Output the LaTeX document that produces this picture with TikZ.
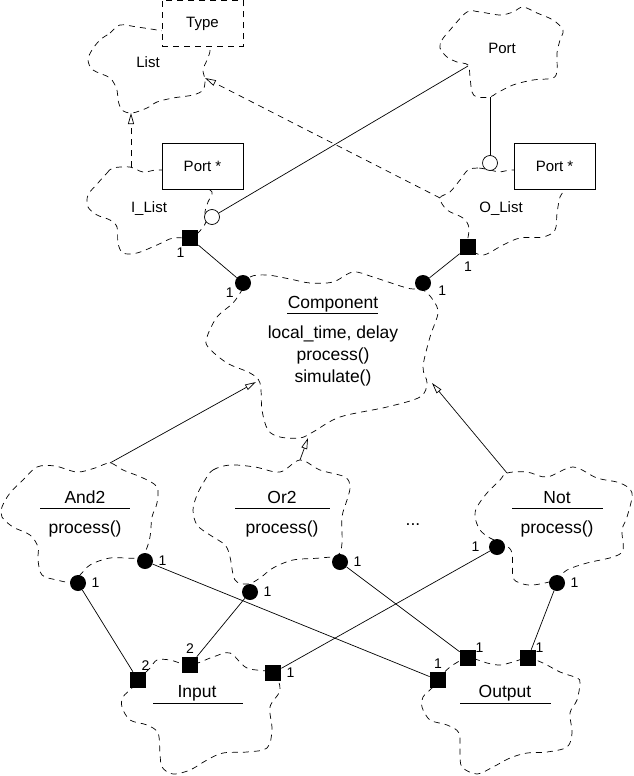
\documentclass[tikz,border=0pt]{standalone}
\usepackage{fontspec}
\setmainfont{Liberation Sans}
\usetikzlibrary{arrows.meta,positioning}

\begin{document}
\begin{tikzpicture}[x=1pt, y=-1pt, line width=0.7pt, >={Triangle[open, length=11pt, width=6pt]},
  cloud/.style={dash pattern=on 6pt off 5pt},
  wire/.style={line width=0.7pt},
  classbox/.style={draw, fill=white, minimum width=81pt, minimum height=46pt, font=\fontsize{15}{17}\selectfont},
  dot/.style={circle, fill=black, inner sep=0pt, minimum size=16pt},
  hollow/.style={circle, draw, fill=white, inner sep=0pt, minimum size=15pt},
  pin/.style={rectangle, fill=black, inner sep=0pt, minimum size=16pt},
  small/.style={font=\fontsize{15}{17}\selectfont, anchor=base, inner sep=0pt},
  big/.style={font=\fontsize{17.5}{21}\selectfont, anchor=base, inner sep=0pt},
  num/.style={font=\fontsize{14}{16}\selectfont, inner sep=1pt}]
  \useasboundingbox (0,0) rectangle (634,776);

  \draw[cloud] plot[smooth cycle, tension=0.55] coordinates {(100,40) (110,33) (120,25) (137,27) (157,30) (185,35) (205,42) (210,50) (207,60) (203,70) (205,80) (203,90) (193,95) (173,98) (157,102) (147,108) (132,113) (122,110) (118,100) (117,90) (110,78) (93,70) (88,60) (92,50)};
  \draw[cloud] plot[smooth cycle, tension=0.55] coordinates {(98,183) (107,173) (113,168) (130,167) (143,172) (157,170) (175,172) (200,185) (212,192) (208,202) (205,212) (206,222) (198,233) (190,238) (173,238) (157,245) (137,253) (123,253) (118,243) (117,227) (110,220) (97,215) (88,207) (88,195)};
  \draw[cloud] plot[smooth cycle, tension=0.55] coordinates {(440,48) (442,40) (450,30) (467,12) (480,12) (500,15) (513,12) (523,7) (537,13) (553,20) (563,30) (560,40) (557,53) (557,70) (553,78) (533,80) (513,85) (497,93) (490,97) (477,97) (472,92) (470,77) (468,65) (457,62) (447,57)};
  \draw[cloud] plot[smooth cycle, tension=0.55] coordinates {(490,170) (478,168) (468,170) (460,180) (450,192) (440,198) (447,210) (463,218) (469,228) (468,247) (483,255) (503,245) (520,238) (543,237) (555,230) (557,213) (560,197) (565,185) (540,172) (512,170) (500,172)};
  \draw[cloud] plot[smooth cycle, tension=0.55] coordinates {(242,290) (250,277) (267,275) (290,279) (310,283) (333,282) (353,272) (373,277) (407,288) (423,290) (433,300) (438,313) (430,337) (423,367) (427,383) (420,397) (387,407) (340,417) (313,432) (300,438) (280,437) (268,430) (262,410) (260,383) (250,373) (227,363) (208,347) (207,337) (217,317) (233,303)};
  \draw[cloud] plot[smooth cycle, tension=0.55] coordinates {(23,480) (37,467) (55,466) (77,472) (95,468) (110,463) (123,470) (143,478) (157,487) (157,503) (152,517) (150,537) (145,552) (137,558) (110,558) (90,565) (80,575) (70,582) (57,580) (42,575) (38,560) (38,547) (30,535) (13,527) (2,517) (2,507) (10,493)};
  \draw[cloud] plot[smooth cycle, tension=0.55] coordinates {(205,480) (213,470) (230,465) (255,467) (280,472) (300,460) (320,470) (345,477) (350,487) (347,500) (342,517) (342,543) (338,555) (320,558) (293,560) (273,568) (260,578) (248,584) (235,580) (230,557) (225,545) (210,535) (197,525) (193,510) (197,495)};
  \draw[cloud] plot[smooth cycle, tension=0.55] coordinates {(500,480) (507,473) (527,472) (547,477) (573,467) (597,478) (620,483) (632,493) (627,517) (622,530) (623,550) (613,557) (587,563) (567,570) (555,580) (533,585) (520,583) (513,577) (512,553) (505,545) (490,538) (480,530) (475,517) (477,507) (487,493)};
  \draw[cloud] plot[smooth cycle, tension=0.55] coordinates {(132,688) (138,680) (150,668) (157,660) (170,660) (190,665) (213,657) (230,653) (247,668) (273,673) (280,690) (270,707) (272,730) (267,748) (247,752) (223,753) (207,760) (190,770) (173,774) (162,767) (160,753) (158,733) (147,725) (130,720) (122,707) (123,697)};
  \draw[cloud] plot[smooth cycle, tension=0.55] coordinates {(432,688) (438,680) (450,667) (468,658) (487,663) (500,665) (513,662) (528,658) (543,663) (560,672) (577,678) (580,683) (577,700) (570,713) (572,733) (567,747) (547,752) (527,753) (510,758) (493,767) (477,774) (462,767) (460,753) (459,733) (447,725) (430,720) (422,707) (423,697)};

  \node[classbox, dash pattern=on 6pt off 5pt] (type) at (202.5,23.5) {Type};
  \node[classbox] (ilBox) at (202.5,166) {Port *};
  \node[classbox] (olBox) at (554.5,166) {Port *};

  \coordinate (listS) at (131,113);
  \coordinate (listE) at (205,78);
  \coordinate (ilTop) at (131,167);
  \coordinate (olW) at (440,198);
  \coordinate (portA) at (468,66);
  \coordinate (portB) at (490,97);
  \coordinate (compL) at (256,382);
  \coordinate (compB) at (308,438);
  \coordinate (compR) at (432,383);
  \coordinate (andTop) at (110,463);
  \coordinate (orTop) at (300,460);
  \coordinate (notTop) at (507,473);

  \node[hollow] (ilPort) at (212,217) {};
  \node[hollow] (olPort) at (490,163) {};
  \node[pin] (ilPin) at (190,238) {};
  \node[pin] (olPin) at (468,247) {};
  \node[dot] (cmpL) at (243,283) {};
  \node[dot] (cmpR) at (423,283) {};
  \node[dot] (andIn) at (78,583) {};
  \node[dot] (andOut) at (145,561) {};
  \node[dot] (orIn) at (250,592) {};
  \node[dot] (orOut) at (340,562) {};
  \node[dot] (notIn) at (497,547) {};
  \node[dot] (notOut) at (557,583) {};
  \node[pin] (inA) at (138,680) {};
  \node[pin] (inB) at (190,665) {};
  \node[pin] (inC) at (273,673) {};
  \node[pin] (outA) at (438,680) {};
  \node[pin] (outB) at (468,658) {};
  \node[pin] (outC) at (528,658) {};

  \draw[wire] (portA) -- (ilPort);
  \draw[wire] (portB) -- (olPort);
  \draw[wire] (ilPin) -- (cmpL);
  \draw[wire] (olPin) -- (cmpR);
  \foreach \src/\dst in {andIn/inA, orIn/inB, notIn/inC, andOut/outA, orOut/outB, notOut/outC} {
    \draw[wire] (\src) -- (\dst);
  }
  \foreach \src/\dst in {andTop/compL, orTop/compB, notTop/compR} {
    \draw[->] (\src) -- (\dst);
  }
  \draw[->, cloud] (ilTop) -- (listS);
  \draw[->, cloud] (olW) -- (listE);

  \node[small] (listLbl) at (148,67) {List};
  \node[small] (portLbl) at (502,53) {Port};
  \node[small] (ilLbl) at (149,212) {I\_List};
  \node[small] (olLbl) at (501,212) {O\_List};

  \node[big] (cmpName) at (333,308) {Component};
  \draw (287,313) -- (378,313);
  \node[big] (cmpAttr) at (333,338) {local\_time, delay};
  \node[big] (cmpOp1) at (333,360) {process()};
  \node[big] (cmpOp2) at (333,382) {simulate()};

  \node[big] (andName) at (85,503) {And2};
  \draw (40,508) -- (130,508);
  \node[big] (andOp) at (85,533) {process()};
  \node[big] (orName) at (282,503) {Or2};
  \draw (235,508) -- (330,508);
  \node[big] (orOp) at (282,533) {process()};
  \node[big] (notName) at (557,503) {Not};
  \draw (512,508) -- (603,508);
  \node[big] (notOp) at (557,533) {process()};
  \node[big] (dots) at (413,525) {...};
  \node[big] (inName) at (197,697) {Input};
  \draw (153,703) -- (243,703);
  \node[big] (outName) at (505,697) {Output};
  \draw (460,703) -- (551,703);

  \node[num, below left=0pt and -4pt of ilPin] {1};
  \node[num, below=5pt of olPin] {1};
  \node[num, below left=-2pt and 2pt of cmpL] {1};
  \node[num, below right=-4pt and 8pt of cmpR] {1};
  \node[num, right=4pt of andOut] {1};
  \node[num, right=4pt of andIn] {1};
  \node[num, right=4pt of orIn] {1};
  \node[num, right=4pt of orOut] {1};
  \node[num, left=8pt of notIn] {1};
  \node[num, right=4pt of notOut] {1};
  \node[num, above right=0pt and -6pt of inA] {2};
  \node[num, above=2pt of inB] {2};
  \node[num, right=4pt of inC] {1};
  \node[num, above=2pt of outA] {1};
  \node[num, above right=-4pt and -2pt of outB] {1};
  \node[num, above right=-4pt and -2pt of outC] {1};
\end{tikzpicture}
\end{document}
